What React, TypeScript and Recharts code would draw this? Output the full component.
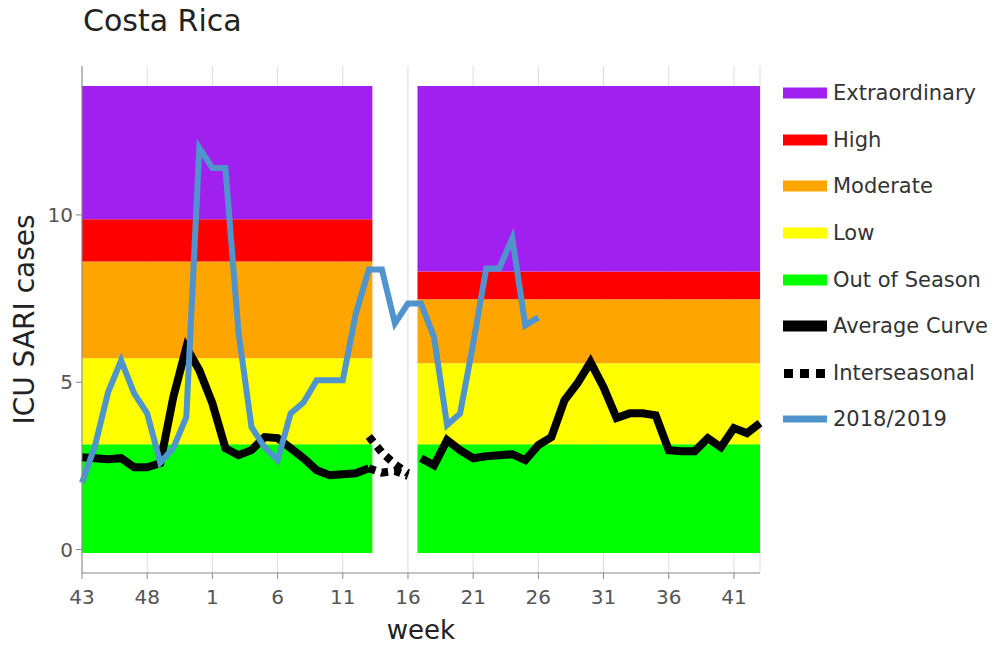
import React from "react";
import { LineChart, Line, XAxis, YAxis, CartesianGrid, ReferenceArea } from "recharts";

// epidemiological weeks, 2018 wk 43 -> 2019 wk 43
const weeks = [
  43, 44, 45, 46, 47, 48, 49, 50, 51, 52,
  1, 2, 3, 4, 5, 6, 7, 8, 9, 10, 11, 12, 13, 14, 15, 16, 17, 18, 19, 20,
  21, 22, 23, 24, 25, 26, 27, 28, 29, 30, 31, 32, 33, 34, 35, 36, 37, 38, 39, 40,
  41, 42, 43,
];

const avgCurve = [
  2.76, 2.73, 2.7, 2.73, 2.46, 2.46, 2.58, 4.55, 6.04, 5.36,
  4.37, 3.03, 2.82, 2.97, 3.36, 3.33, 3.03, 2.73, 2.37, 2.22,
  2.25, 2.28, 2.43, null, null, null, 2.73, 2.52, 3.27, 2.97,
  2.73, 2.79, 2.82, 2.85, 2.67, 3.12, 3.36, 4.46, 4.97, 5.6,
  4.85, 3.93, 4.07, 4.07, 4.01, 2.97, 2.94, 2.94, 3.33, 3.06,
  3.63, 3.48, 3.78,
];

const interseasonalA: Record<number, number> = { 22: 3.38, 23: 2.9, 24: 2.55, 25: 2.28 };
const interseasonalB: Record<number, number> = { 22: 2.43, 23: 2.3, 24: 2.35, 25: 2.2 };

const season2018 = [
  2.0, 3.1, 4.7, 5.65, 4.67, 4.07, 2.6, 3.03, 3.96, 12.0,
  11.4, 11.4, 6.5, 3.66, 3.06, 2.67, 4.07, 4.4, 5.06, 5.06,
  5.06, 7.05, 8.37, 8.37, 6.76, 7.35, 7.35, 6.35, 3.72, 4.07,
  6.15, 8.4, 8.4, 9.3, 6.7, 6.94,
];

const xTicks = [0, 5, 10, 15, 20, 25, 30, 35, 40, 45, 50];
const yTicks = [0, 5, 10];

// threshold bands (bottom -> top)
const bandNames = ["Out of Season", "Low", "Moderate", "High", "Extraordinary"];
const bandColors = ["#00ff00", "#ffff00", "#ffa500", "#ff0000", "#a020f0"];
const leftLimits = [-0.1, 3.15, 5.72, 8.61, 9.87, 13.85];
const rightLimits = [-0.1, 3.15, 5.57, 7.48, 8.31, 13.85];
const leftSpan = [0, 22.27];
const rightSpan = [25.73, 52];

const data = weeks.map((w, i) => ({
  i,
  week: w,
  avg: avgCurve[i],
  interA: interseasonalA[i] ?? null,
  interB: interseasonalB[i] ?? null,
  current: i < season2018.length ? season2018[i] : null,
}));

const FONT = "'DejaVu Sans', Verdana, sans-serif";

function Swatch({ kind, color }: { kind: string; color: string }) {
  if (kind === "dots") {
    return (
      <svg width={44} height={12}>
        {[0, 1, 2].map((k) => (
          <rect key={k} x={1 + k * 16} y={2} width={9} height={9} fill={color} />
        ))}
      </svg>
    );
  }
  const h = kind === "thin" ? 7 : 11;
  return (
    <svg width={44} height={12}>
      <rect x={0} y={(12 - h) / 2} width={44} height={h} fill={color} />
    </svg>
  );
}

const legendItems = [
  { name: "Extraordinary", color: bandColors[4], kind: "band" },
  { name: "High", color: bandColors[3], kind: "band" },
  { name: "Moderate", color: bandColors[2], kind: "band" },
  { name: "Low", color: bandColors[1], kind: "band" },
  { name: "Out of Season", color: bandColors[0], kind: "band" },
  { name: "Average Curve", color: "#000000", kind: "band" },
  { name: "Interseasonal", color: "#000000", kind: "dots" },
  { name: "2018/2019", color: "#4f94cd", kind: "thin" },
];

export default function App() {
  return (
    <div style={{ position: "absolute", left: 0, top: 0, width: 995, height: 646, background: "#fff", fontFamily: FONT }}>
      <div style={{ position: "absolute", left: 83, top: 3, fontSize: 30, color: "#222", lineHeight: "36px" }}>
        Costa Rica
      </div>
      <LineChart width={995} height={646} data={data} margin={{ top: 66, right: 235, left: 0, bottom: 0 }}>
        <CartesianGrid horizontal={false} stroke="#dddddd" strokeWidth={1} />
        <XAxis
          dataKey="i"
          type="number"
          domain={[0, 52]}
          ticks={xTicks}
          tickFormatter={(v: number) => String(weeks[v])}
          height={73}
          tick={{ fill: "#555", fontSize: 20, fontFamily: FONT }}
          tickSize={6}
          tickMargin={11}
          axisLine={{ stroke: "#888" }}
          tickLine={{ stroke: "#888" }}
          label={{ value: "week", position: "insideBottom", offset: 7, fill: "#222", fontSize: 26, fontFamily: FONT }}
        />
        <YAxis
          type="number"
          domain={[-0.7, 14.45]}
          ticks={yTicks}
          width={82}
          tick={{ fill: "#555", fontSize: 20, fontFamily: FONT }}
          tickSize={6}
          tickMargin={3}
          axisLine={{ stroke: "#888" }}
          tickLine={{ stroke: "#888" }}
          label={{ value: "ICU SARI cases", angle: -90, position: "insideLeft", offset: 24, fill: "#222", fontSize: 28, fontFamily: FONT, style: { textAnchor: "middle" } }}
        />
        {bandNames.map((name, k) => (
          <ReferenceArea
            key={"L" + name}
            x1={leftSpan[0]}
            x2={leftSpan[1]}
            y1={leftLimits[k]}
            y2={leftLimits[k + 1]}
            fill={bandColors[k]}
            fillOpacity={1}
            ifOverflow="visible"
          />
        ))}
        {bandNames.map((name, k) => (
          <ReferenceArea
            key={"R" + name}
            x1={rightSpan[0]}
            x2={rightSpan[1]}
            y1={rightLimits[k]}
            y2={rightLimits[k + 1]}
            fill={bandColors[k]}
            fillOpacity={1}
            ifOverflow="visible"
          />
        ))}
        <Line dataKey="avg" stroke="#000" strokeWidth={8} dot={false} connectNulls={false} isAnimationActive={false} />
        <Line dataKey="interA" stroke="#000" strokeWidth={8} strokeDasharray="7 6" dot={false} isAnimationActive={false} />
        <Line dataKey="interB" stroke="#000" strokeWidth={8} strokeDasharray="7 6" dot={false} isAnimationActive={false} />
        <Line dataKey="current" stroke="#4f94cd" strokeWidth={6} dot={false} isAnimationActive={false} />
      </LineChart>
      <div style={{ position: "absolute", left: 783, top: 70 }}>
        {legendItems.map((it) => (
          <div key={it.name} style={{ display: "flex", alignItems: "center", height: 46.6, fontSize: 21, color: "#333", lineHeight: "24px" }}>
            <Swatch kind={it.kind} color={it.color} />
            <span style={{ marginLeft: 6 }}>{it.name}</span>
          </div>
        ))}
      </div>
    </div>
  );
}
